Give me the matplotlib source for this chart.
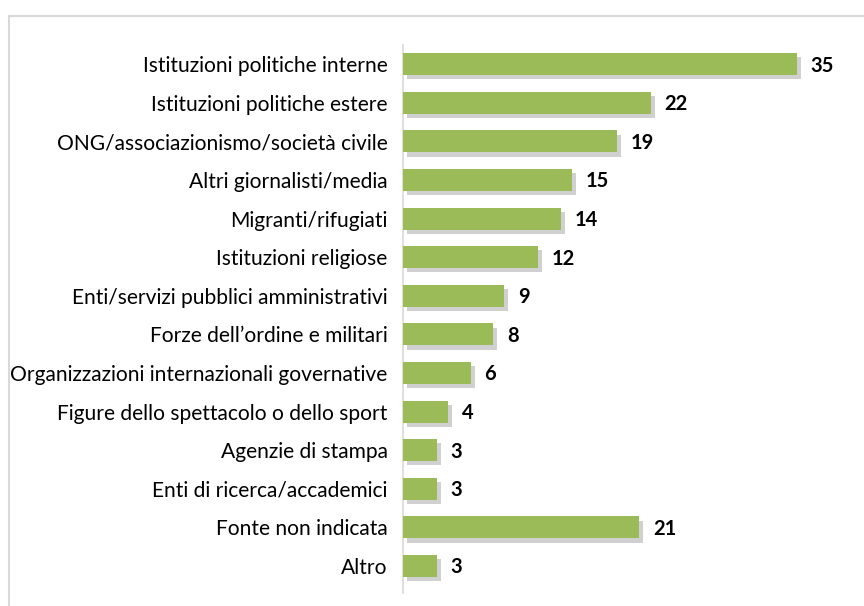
import matplotlib.pyplot as plt
import matplotlib.patheffects as pe
from matplotlib.patches import Rectangle

categories = [
    "Istituzioni politiche interne",
    "Istituzioni politiche estere",
    "ONG/associazionismo/società civile",
    "Altri giornalisti/media",
    "Migranti/rifugiati",
    "Istituzioni religiose",
    "Enti/servizi pubblici amministrativi",
    "Forze dell\u2019ordine e militari",
    "Organizzazioni internazionali governative",
    "Figure dello spettacolo o dello sport",
    "Agenzie di stampa",
    "Enti di ricerca/accademici",
    "Fonte non indicata",
    "Altro",
]
values = [35, 22, 19, 15, 14, 12, 9, 8, 6, 4, 3, 3, 21, 3]

plt.rcParams['font.family'] = ['Lato', 'DejaVu Sans']

fig = plt.figure(figsize=(8.64, 6.06), dpi=100)
ax = fig.add_axes([403 / 864, 13 / 606, 450 / 864, 548 / 606])

# light frame around the chart area
fig.patches.append(Rectangle((9 / 864, -0.1), 1.2, 1 - 16 / 606 + 0.1,
                             transform=fig.transFigure, fill=False,
                             edgecolor="#d9d9d9", linewidth=1.5))

pos = list(range(len(categories)))
bars = ax.barh(pos, values, height=0.57, color="#9bbb59", zorder=3)
for b in bars:
    b.set_path_effects([pe.SimplePatchShadow(offset=(3, -3), shadow_rgbFace="#666666", alpha=0.3),
                        pe.Normal()])

for p, v in zip(pos, values):
    ax.annotate(str(v), (v, p), xytext=(10, -1), textcoords="offset points",
                va="center", ha="left", fontsize=14.5, fontweight="bold")

ax.set_xlim(0, 40)
ax.set_ylim(13.7, -0.5)
ax.set_yticks(pos)
ax.set_yticklabels(categories, fontsize=15.1)
ax.tick_params(axis="y", length=0, pad=11)
ax.set_xticks([])
for s in ["top", "right", "bottom"]:
    ax.spines[s].set_visible(False)
ax.spines["left"].set_color("#d9d9d9")
ax.spines["left"].set_linewidth(1.2)

fig.savefig("out.png", dpi=100)
